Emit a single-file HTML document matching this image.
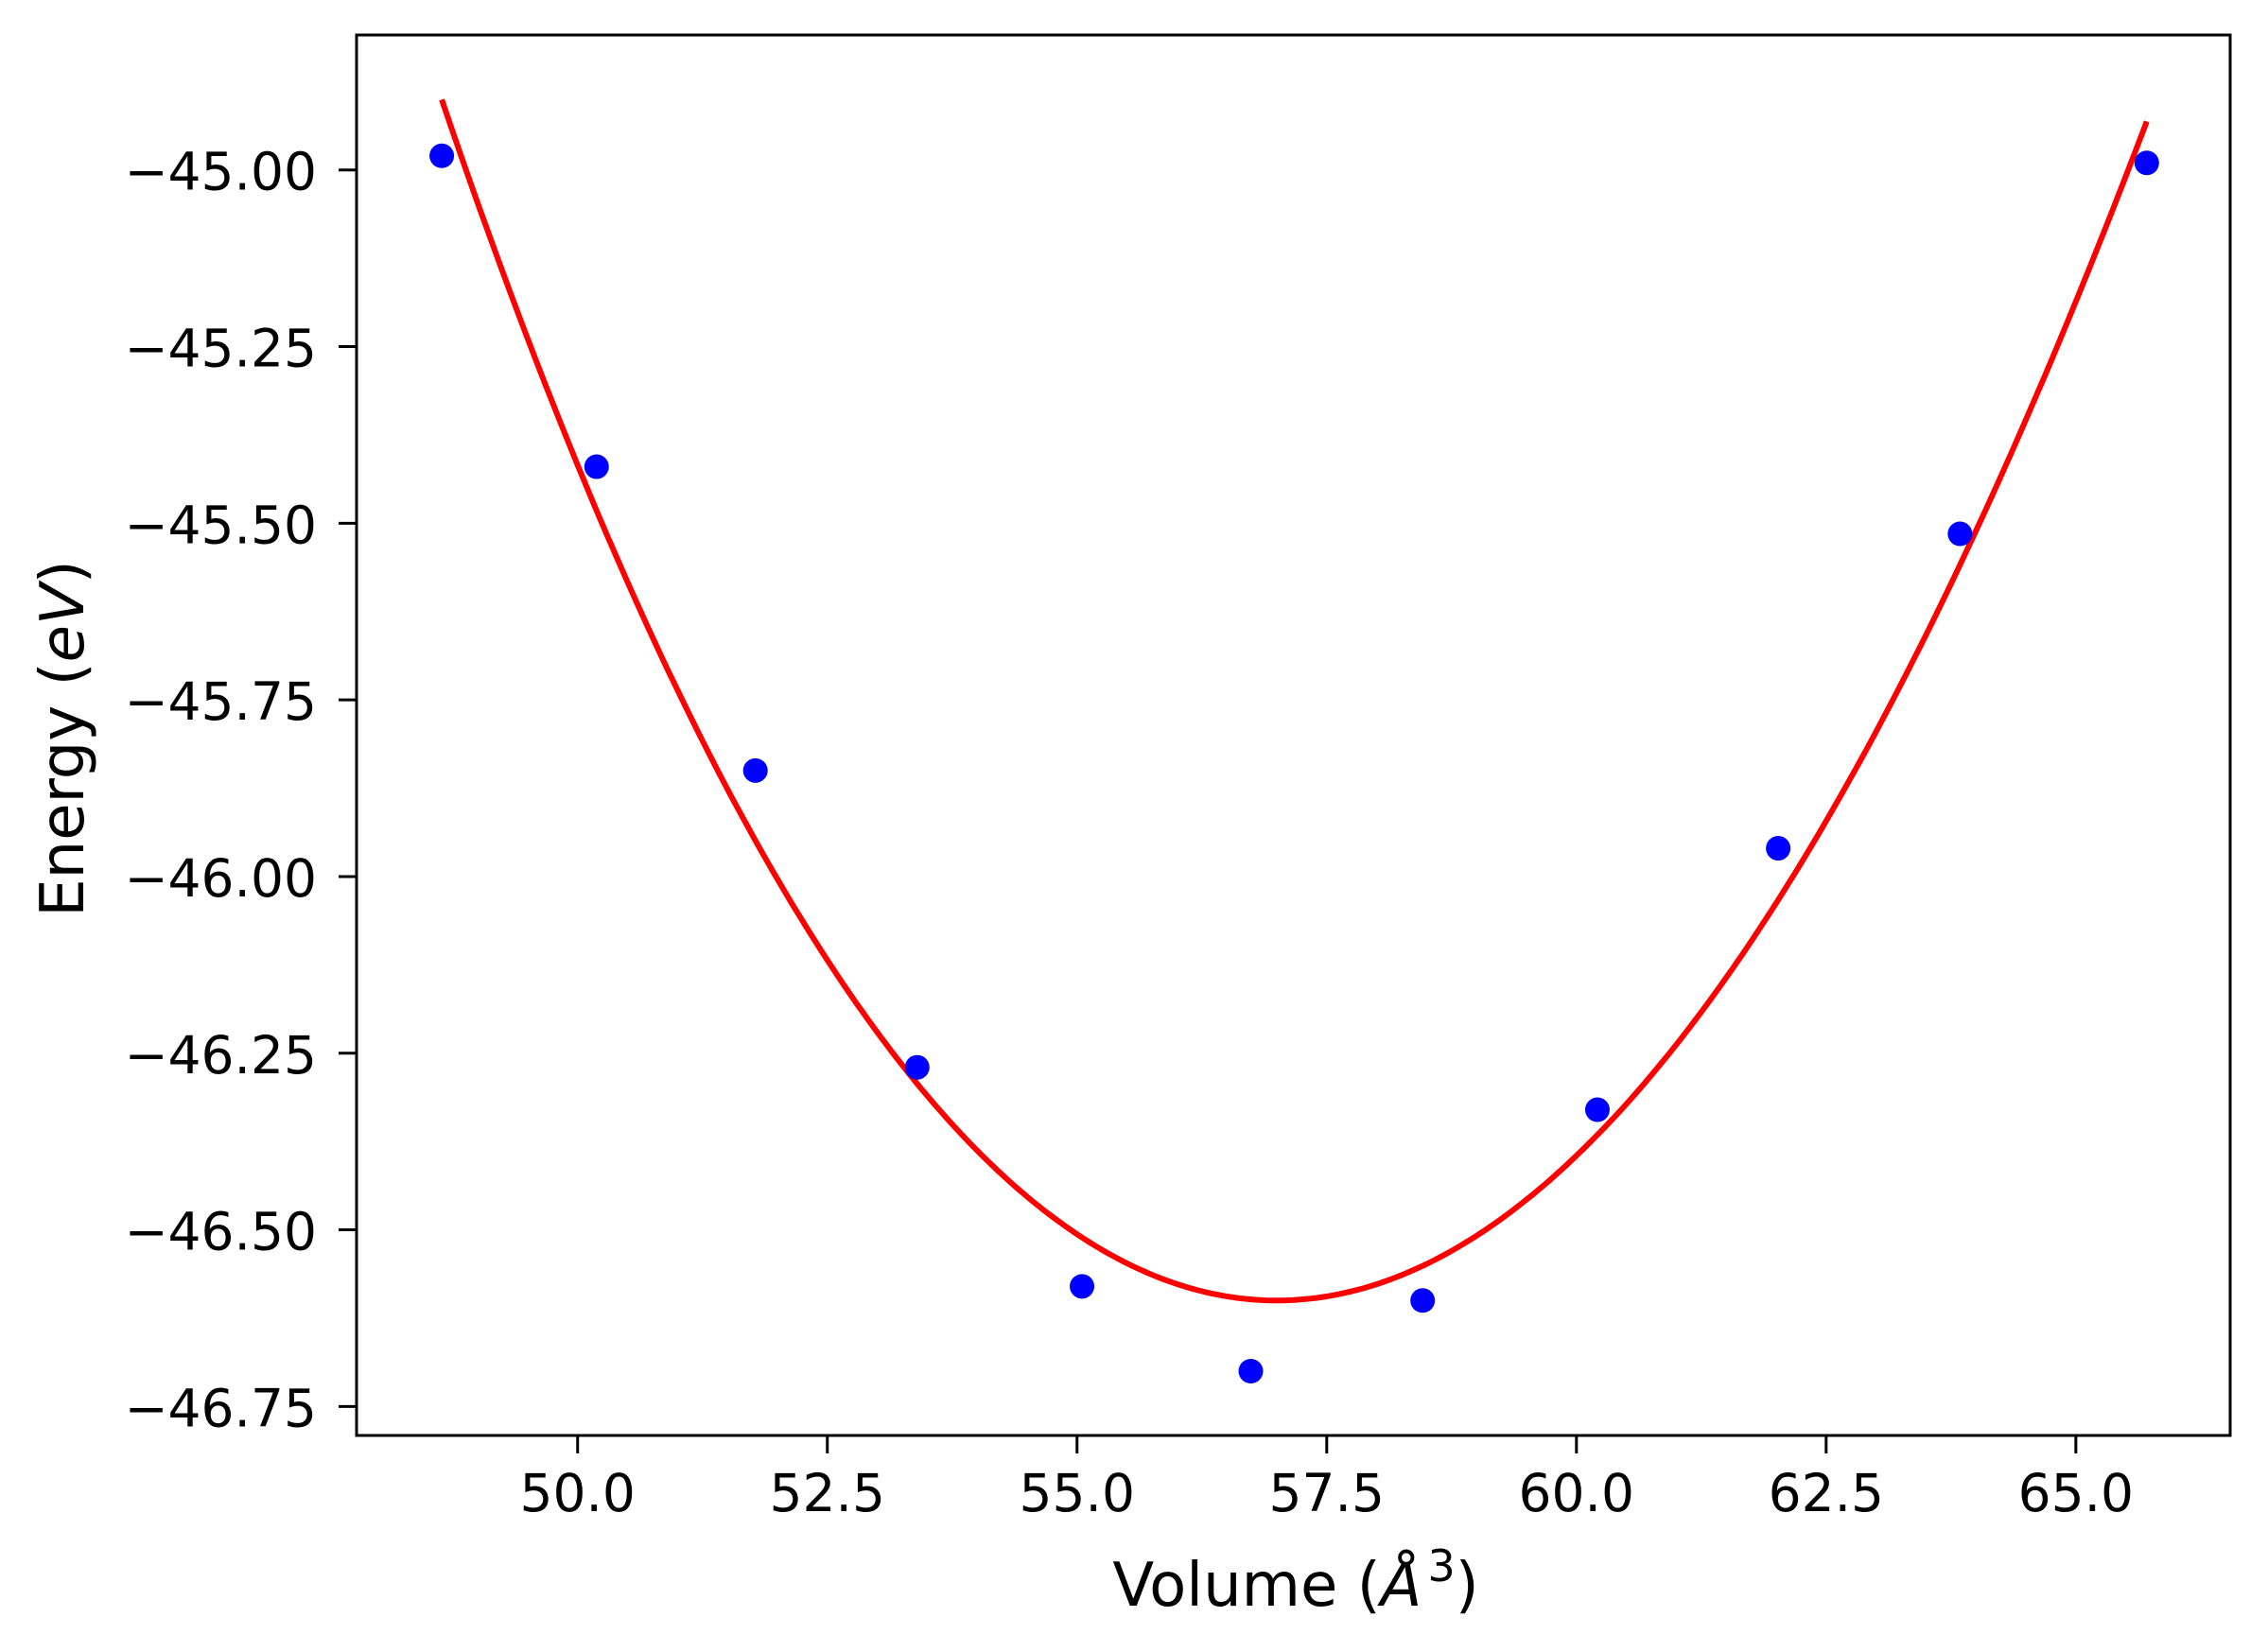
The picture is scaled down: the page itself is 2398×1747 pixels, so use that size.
<!DOCTYPE html>
<html><head><meta charset="utf-8"><style>
html,body{margin:0;padding:0;background:#fff;}
svg{display:block;font-family:"DejaVu Sans","Liberation Sans",sans-serif;}
</style></head><body>
<svg id="chart" width="2398" height="1747" viewBox="0 0 2398 1747" xmlns="http://www.w3.org/2000/svg">
<rect x="0" y="0" width="2398" height="1747" fill="#fff"/>
<g id="plot"></g>
<g id="axes"></g>
<text x="1370" y="1698" font-size="64" text-anchor="middle">Volume (<tspan font-style="italic">Å</tspan><tspan dy="-26" font-size="46" dx="6">3</tspan><tspan dy="26">)</tspan></text>
<text x="0" y="0" font-size="64" text-anchor="middle" transform="translate(88,781) rotate(-90)">Energy (<tspan font-style="italic">eV</tspan>)</text>
</svg>
<script>
const volumes = [48.64, 50.19, 51.78, 53.40, 55.05, 56.74, 58.46, 60.21, 62.02, 63.84, 65.71];
const energies = [-44.98, -45.42, -45.85, -46.27, -46.58, -46.70, -46.60, -46.33, -45.96, -45.515, -44.99];
// fit parameters: [E0, V0, quadratic coef, cubic coef]
const fitParams = [-46.60, 57.0, 0.02318, -0.000136];
const fitRange = [48.64, 65.71];
const xTicks = [50.0, 52.5, 55.0, 57.5, 60.0, 62.5, 65.0];
const xTickLabels = ["50.0", "52.5", "55.0", "57.5", "60.0", "62.5", "65.0"];
const yTicks = [-45.00, -45.25, -45.50, -45.75, -46.00, -46.25, -46.50, -46.75];
const yTickLabels = ["\u221245.00", "\u221245.25", "\u221245.50", "\u221245.75", "\u221246.00", "\u221246.25", "\u221246.50", "\u221246.75"];

const L = 377, R = 2358, T = 37, B = 1518;
const xMin = 47.787, xMax = 66.545, yMin = -46.791, yMax = -44.809;
const sx = v => L + (v - xMin) / (xMax - xMin) * (R - L);
const sy = v => B - (v - yMin) / (yMax - yMin) * (B - T);
const NS = "http://www.w3.org/2000/svg";
const plot = document.getElementById('plot');
const axes = document.getElementById('axes');
function mk(tag, attrs, parent) {
  const e = document.createElementNS(NS, tag);
  for (const k in attrs) e.setAttribute(k, attrs[k]);
  parent.appendChild(e);
  return e;
}
const fit = v => { const d = v - fitParams[1]; return fitParams[0] + fitParams[2]*d*d + fitParams[3]*d*d*d; };
let pts = [];
for (let i = 0; i <= 300; i++) {
  const v = fitRange[0] + (fitRange[1] - fitRange[0]) * i / 300;
  pts.push(sx(v).toFixed(1) + ',' + sy(fit(v)).toFixed(1));
}
const line = mk('polyline', {points: pts.join(' '), fill: 'none', stroke: '#ff0000', 'stroke-width': 6}, plot);


volumes.forEach((v, i) => {
  const c = mk('circle', {cx: sx(v), cy: sy(energies[i]), r: 13, fill: '#0000ff'}, plot);
  
  
});
const frame = mk('rect', {x: L, y: T, width: R - L, height: B - T, fill: 'none', stroke: '#000', 'stroke-width': 3}, axes);


xTicks.forEach((v, i) => {
  const x = sx(v);
  const t = mk('line', {x1: x, y1: B, x2: x, y2: B + 19, stroke: '#000', 'stroke-width': 3}, axes);
  
  
  const lb = mk('text', {x: x, y: 1598, 'font-size': 55, 'text-anchor': 'middle'}, axes);
  lb.textContent = xTickLabels[i];
  
  
});
yTicks.forEach((v, i) => {
  const y = sy(v);
  const t = mk('line', {x1: L - 19, y1: y, x2: L, y2: y, stroke: '#000', 'stroke-width': 3}, axes);
  
  
  const lb = mk('text', {x: 335, y: y + 21, 'font-size': 55, 'text-anchor': 'end'}, axes);
  lb.textContent = yTickLabels[i];
  
  
});
</script>
</body></html>
